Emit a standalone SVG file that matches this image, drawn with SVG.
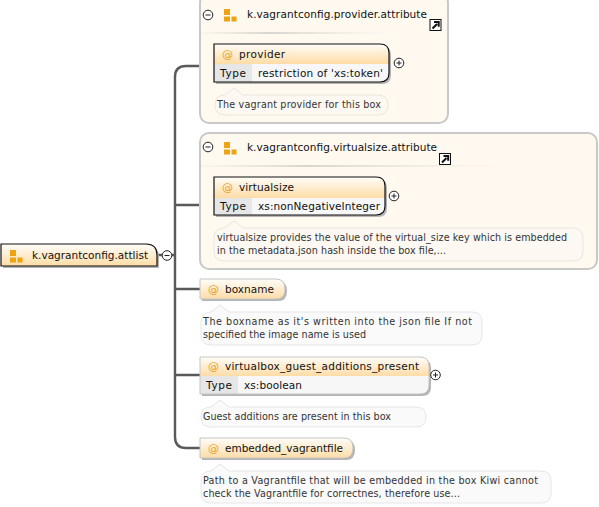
<svg xmlns="http://www.w3.org/2000/svg" width="599" height="507" viewBox="0 0 599 507">
<style>
text{font-family:"DejaVu Sans","Liberation Sans",sans-serif;font-size:10.5px;fill:#111}
.note text{font-size:9.6px;fill:#333}
.panel{fill:#fff9f0;stroke:#c8c8c8;stroke-width:2}
.notebox{fill:#fdf9f2;stroke:#ebe6dc;stroke-width:1}
.notew{fill:#fafafa;stroke:#e6e6e6;stroke-width:1}
.blk{stroke:#111;stroke-width:1.2}
.gry{stroke:#c4c4c4;stroke-width:1}
.shadow{fill:#b4b4b4}
.at{fill:#e8a018;font-size:11px}
.btn{fill:#fff;stroke:#222;stroke-width:1}
.sign{stroke:#222;stroke-width:1;fill:none}
.conn{fill:none;stroke:#5a5a5a;stroke-width:2.4}
.ic{fill:#eda312}
.typecell{fill:#e6e6e6}
.valcell{fill:#f7f7f7}
</style>
<defs>
<linearGradient id="hd" x1="0" y1="0" x2="0" y2="1"><stop offset="0" stop-color="#fffdf9"/><stop offset="1" stop-color="#fedcA6"/></linearGradient>
<linearGradient id="sep" x1="0" y1="0" x2="1" y2="0"><stop offset="0" stop-color="#e4e2dc" stop-opacity=".2"/><stop offset=".35" stop-color="#d8d6d0"/><stop offset="1" stop-color="#e4e2dc" stop-opacity="0"/></linearGradient>
<g id="icon"><rect class="ic" x="0" y="0" width="6" height="6"/><rect class="ic" x="0" y="7.500" width="6" height="5"/><rect class="ic" x="7.500" y="7.500" width="5" height="5"/></g>
<g id="plus"><circle class="btn" r="4.800"/><path class="sign" d="M-2.500 0H2.500M0-2.500V2.500"/></g>
<g id="minus"><circle class="btn" r="4.800"/><path class="sign" d="M-2.500 0H2.500"/></g>
<g id="link"><rect width="11" height="11" fill="#fff" stroke="#111" stroke-width="1"/><path d="M2.500 9L7 4.500M4 2.500H8.700V7.200" stroke="#111" stroke-width="2" fill="none"/></g>
</defs>

<g id="connectors">
<path class="conn" d="M200 66H186Q175 66 175 77V437Q175 448 186 448H200"/>
<path class="conn" d="M157 255H175M175 205H214M175 289H200M175 375H200"/>
</g>

<g id="root">
<path class="shadow" d="M3 246H148Q159 246 159 257V268H3Z"/>
<path d="M1 244H146Q157 244 157 255V266H1Z" fill="url(#hd)" class="blk"/>
<use href="#icon" x="10" y="250"/>
<text x="32" y="259" textLength="116">k.vagrantconfig.attlist</text>
<use href="#minus" x="167" y="255.500"/>
</g>

<g id="provider-group">
<rect class="panel" x="200" y="-6" width="248" height="129" rx="9"/>
<use href="#minus" x="208" y="15"/>
<use href="#icon" x="224" y="9"/>
<text x="247" y="18" textLength="180">k.vagrantconfig.provider.attribute</text>
<use href="#link" x="430" y="19.500"/>
<rect x="202" y="32" width="190" height="2" fill="url(#sep)"/>
<g id="provider">
<path class="shadow" d="M216 46H382Q391 46 391 55V75Q391 84 382 84H216Z"/>
<path d="M214 44H380Q389 44 389 53V64H214Z" fill="url(#hd)"/>
<path d="M214 64H252V82H214Z" class="typecell"/>
<path d="M252 64H389V73Q389 82 380 82H252Z" class="valcell"/>
<path d="M214 44H380Q389 44 389 53V73Q389 82 380 82H214Z" fill="none" class="blk"/>
<text class="at" x="222" y="58">@</text>
<text x="239" y="58" textLength="46">provider</text>
<text x="220" y="77" textLength="26">Type</text>
<text x="258" y="77" textLength="125">restriction of 'xs:token'</text>
<use href="#plus" x="399" y="63"/>
</g>
<g class="note">
<path class="notebox" d="M225 95L234 88L243 95H378Q388 95 388 105Q388 115 378 115H225Q215 115 215 105Q215 95 225 95Z"/>
<text x="217" y="108" textLength="164">The vagrant provider for this box</text>
</g>
</g>

<g id="virtualsize-group">
<rect class="panel" x="200" y="133" width="397" height="136" rx="9"/>
<use href="#minus" x="208" y="147"/>
<use href="#icon" x="224" y="142"/>
<text x="247" y="151" textLength="190">k.vagrantconfig.virtualsize.attribute</text>
<use href="#link" x="439.500" y="153.500"/>
<rect x="202" y="165" width="300" height="2" fill="url(#sep)"/>
<g id="virtualsize">
<path class="shadow" d="M216 179H378Q387 179 387 188V208Q387 217 378 217H216Z"/>
<path d="M214 177H376Q385 177 385 186V198H214Z" fill="url(#hd)"/>
<path d="M214 198H252V215H214Z" class="typecell"/>
<path d="M252 198H385V206Q385 215 376 215H252Z" class="valcell"/>
<path d="M214 177H376Q385 177 385 186V206Q385 215 376 215H214Z" fill="none" class="blk"/>
<text class="at" x="222" y="191">@</text>
<text x="239" y="191" textLength="55">virtualsize</text>
<text x="220" y="210" textLength="26">Type</text>
<text x="258" y="210" textLength="122">xs:nonNegativeInteger</text>
<use href="#plus" x="394" y="196"/>
</g>
<g class="note">
<path class="notebox" d="M224 228L234 221L243 228H573Q583 228 583 238V251Q583 261 573 261H224Q214 261 214 251V238Q214 228 224 228Z"/>
<text x="217" y="241" textLength="350">virtualsize provides the value of the virtual_size key which is embedded</text>
<text x="217" y="254" textLength="229">in the metadata.json hash inside the box file,...</text>
</g>
</g>

<g id="boxname">
<path class="shadow" d="M202 281H278Q287 281 287 291Q287 301 278 301H202Z"/>
<path d="M200 279H276Q285 279 285 289Q285 299 276 299H200Z" fill="url(#hd)" class="gry"/>
<text class="at" x="208" y="293">@</text>
<text x="225" y="293" textLength="49">boxname</text>
<g class="note">
<path class="notew" d="M211 312L220 305L229 312H472Q482 312 482 322V335Q482 345 472 345H211Q201 345 201 335V322Q201 312 211 312Z"/>
<text x="203" y="325" textLength="269">The boxname as it's written into the json file If not</text>
<text x="203" y="338" textLength="163">specified the image name is used</text>
</g>
</g>

<g id="virtualbox_guest_additions_present">
<path class="shadow" d="M202 359H422Q431 359 431 368V387Q431 396 422 396H202Z"/>
<path d="M200 357H420Q429 357 429 366V376H200Z" fill="url(#hd)"/>
<path d="M200 376H238V394H200Z" class="typecell"/>
<path d="M238 376H429V385Q429 394 420 394H238Z" class="valcell"/>
<path d="M200 357H420Q429 357 429 366V385Q429 394 420 394H200Z" fill="none" class="gry"/>
<text class="at" x="208" y="370">@</text>
<text x="225" y="370" textLength="194">virtualbox_guest_additions_present</text>
<text x="206" y="389" textLength="26">Type</text>
<text x="244" y="389" textLength="58">xs:boolean</text>
<use href="#plus" x="435.500" y="375"/>
<g class="note">
<path class="notew" d="M211 407L220 400L229 407H416Q426 407 426 417Q426 427 416 427H211Q201 427 201 417Q201 407 211 407Z"/>
<text x="203" y="420" textLength="188">Guest additions are present in this box</text>
</g>
</g>

<g id="embedded_vagrantfile">
<path class="shadow" d="M202 440H346Q355 440 355 450Q355 460 346 460H202Z"/>
<path d="M200 438H344Q353 438 353 448Q353 458 344 458H200Z" fill="url(#hd)" class="gry"/>
<text class="at" x="208" y="452">@</text>
<text x="225" y="452" textLength="118">embedded_vagrantfile</text>
<g class="note">
<path class="notew" d="M211 471L220 464L229 471H541Q551 471 551 481V493Q551 503 541 503H211Q201 503 201 493V481Q201 471 211 471Z"/>
<text x="203" y="484" textLength="335">Path to a Vagrantfile that will be embedded in the box Kiwi cannot</text>
<text x="203" y="497" textLength="257">check the Vagrantfile for correctnes, therefore use...</text>
</g>
</g>
</svg>
